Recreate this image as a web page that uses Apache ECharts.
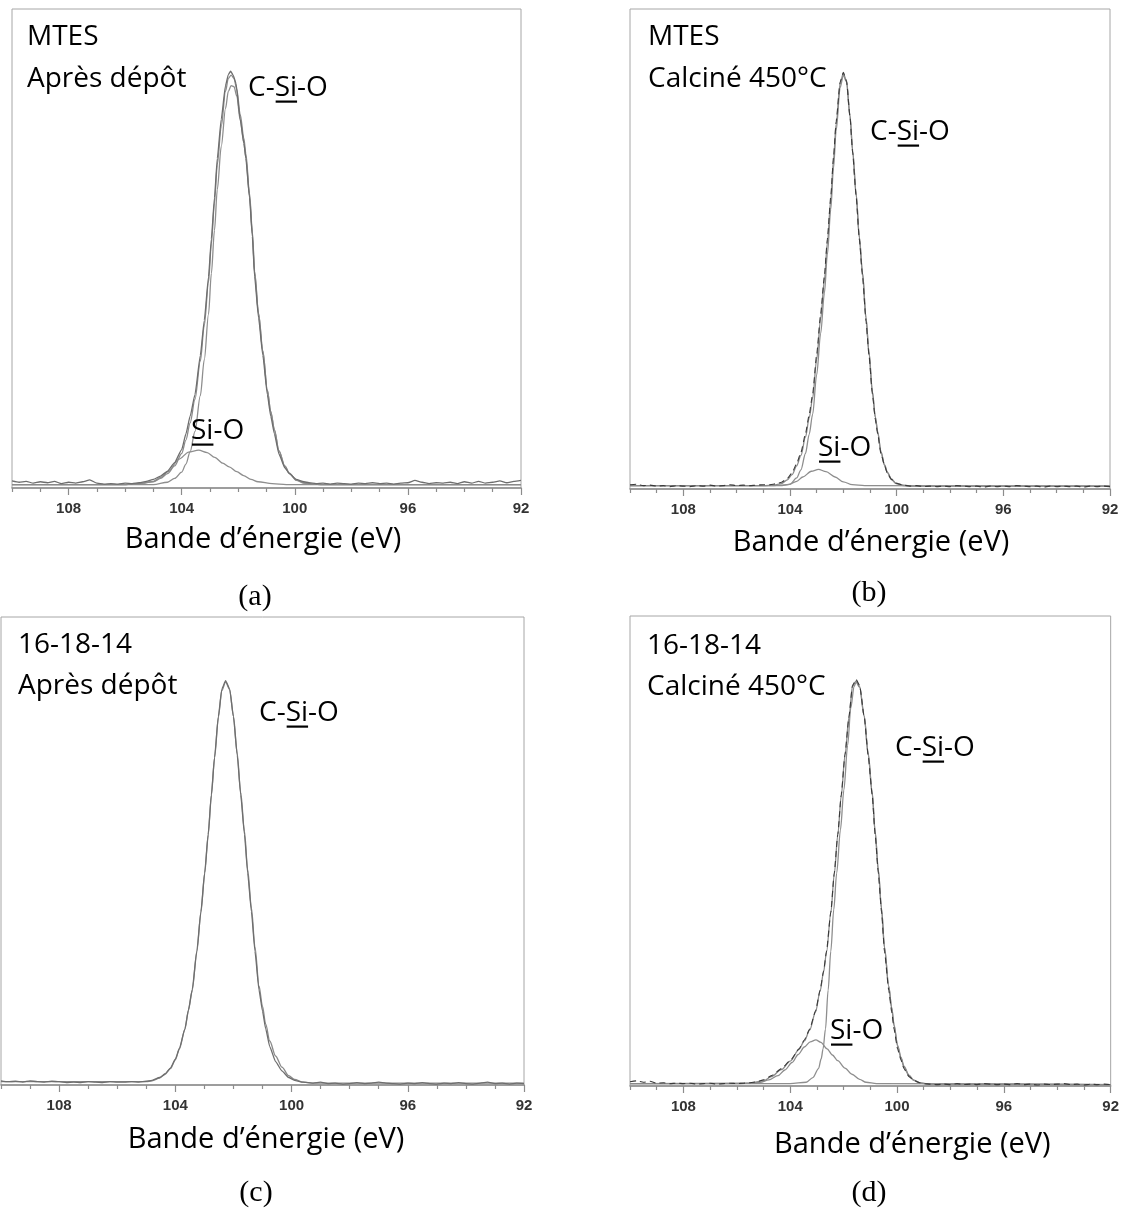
<!DOCTYPE html>
<html>
<head>
<meta charset="utf-8">
<script src="https://cdn.jsdelivr.net/npm/echarts@6/dist/echarts.min.js"></script>
<style>
html,body{margin:0;padding:0;background:#fff;}
#chart{width:1122px;height:1209px;}
</style>
</head>
<body>
<div id="chart"></div>
<script>
// ---------- tick labels ----------
const tickValues = [108, 104, 100, 96, 92];
const minorTickValues = [110, 109, 107, 106, 105, 103, 102, 101, 99, 98, 97, 95, 94, 93];
const axisTitle = 'Bande d’énergie (eV)';

// ---------- panel (a) MTES, après dépôt ----------
const aMeas = [[110,1.5],[109.75,1.2],[109.5,1.4],[109.25,1.0],[109,1.3],[108.75,1.1],[108.5,1.4],[108.25,0.9],[108,1.2],[107.75,1.0],[107.5,1.3],[107.25,1.7],[107,1.0],[106.75,0.8],[106.5,0.9],[106.25,0.8],[106,1.0],[105.75,0.9],[105.5,1.1],[105.25,1.4],[105,1.8],[104.75,2.5],[104.5,3.5],[104.25,5.3],[104.0,8.0],[103.85,11.3],[103.7,15.0],[103.53,19.5],[103.34,27.7],[103.2,35.0],[103.05,44.1],[102.95,52.0],[102.84,60.6],[102.74,68.8],[102.6,77.0],[102.45,84.0],[102.35,86.3],[102.27,87.0],[102.18,86.2],[102.08,84.5],[101.93,77.0],[101.8,72.0],[101.73,68.8],[101.6,60.6],[101.5,52.5],[101.42,44.1],[101.28,35.5],[101.13,27.7],[100.97,19.5],[100.85,15.0],[100.72,11.3],[100.56,7.1],[100.35,4.2],[100.19,3.0],[99.95,1.8],[99.68,1.3],[99.5,1.1],[99.25,0.9],[99,1.0],[98.75,0.8],[98.5,1.0],[98.25,0.9],[98,0.8],[97.75,1.0],[97.5,0.9],[97.25,1.1],[97,0.9],[96.75,1.0],[96.5,0.8],[96.25,1.0],[96,1.1],[95.75,1.6],[95.5,1.2],[95.25,0.9],[95,1.1],[94.75,1.0],[94.5,1.2],[94.25,0.9],[94,1.3],[93.75,1.0],[93.5,1.4],[93.25,1.0],[93,1.2],[92.75,1.5],[92.5,1.1],[92.25,1.4],[92,1.6]];
const aFit = [[110,0.7],[106,0.7],[105.5,0.9],[105,1.3],[104.75,2.0],[104.5,3.0],[104.25,4.6],[104.0,7.2],[103.85,10.0],[103.7,13.6],[103.53,18.5],[103.34,26.5],[103.2,34.0],[103.05,43.0],[102.95,51.0],[102.84,59.5],[102.74,67.5],[102.6,75.5],[102.45,82.8],[102.35,85.5],[102.25,86.2],[102.15,85.5],[102.05,83.2],[101.93,78.0],[101.8,73.0],[101.73,69.8],[101.6,61.5],[101.5,53.5],[101.42,45.2],[101.28,36.5],[101.13,28.7],[100.97,20.5],[100.85,16.0],[100.72,12.2],[100.56,7.8],[100.35,4.6],[100.19,3.1],[99.95,1.7],[99.68,1.1],[99.4,0.8],[99,0.7],[92,0.7]];
const aCSiO = [[110,0.7],[105,0.7],[104.5,1.2],[104.25,2.0],[104.0,3.3],[103.85,5.0],[103.7,7.6],[103.53,11.8],[103.34,19.3],[103.2,26.8],[103.05,36.3],[102.95,44.8],[102.84,53.8],[102.74,62.3],[102.6,71.3],[102.45,79.2],[102.35,82.8],[102.25,84.0],[102.15,83.8],[102.05,81.8],[101.93,76.8],[101.8,72.0],[101.73,69.0],[101.6,61.0],[101.5,53.0],[101.42,44.9],[101.28,36.3],[101.13,28.5],[100.97,20.4],[100.85,15.9],[100.72,12.1],[100.56,7.7],[100.35,4.5],[100.19,3.0],[99.95,1.6],[99.68,1.0],[99.4,0.8],[99,0.7],[92,0.7]];
const aSiO = [[110,0.7],[106,0.7],[105.4,1.0],[105,1.4],[104.75,2.2],[104.48,3.4],[104.1,6.0],[103.75,7.5],[103.4,7.9],[103.1,7.4],[102.83,6.4],[102.55,5.2],[102.32,4.4],[102.05,3.4],[101.81,2.6],[101.55,1.8],[101.3,1.3],[100.8,0.9],[100.3,0.7],[92,0.7]];

// ---------- panel (b) MTES, calciné 450°C ----------
const bMeas = [[110,0.9],[109.75,1.0],[109.5,0.7],[109.25,0.8],[109,0.6],[108.75,0.7],[108.5,0.5],[108.25,0.7],[108,0.6],[107.75,0.5],[107.5,0.7],[107.25,0.6],[107,0.8],[106.75,0.6],[106.5,0.7],[106.25,0.9],[106,0.7],[105.75,0.8],[105.5,0.7],[105.25,0.8],[105,0.9],[104.75,0.9],[104.5,1.1],[104.32,1.4],[104.1,2.2],[103.92,3.4],[103.75,5.3],[103.59,7.6],[103.42,11.5],[103.28,15.5],[103.15,19.8],[103.0,28.0],[102.85,36.5],[102.71,44.4],[102.6,52.0],[102.47,61.0],[102.37,69.0],[102.27,76.5],[102.12,84.8],[102.0,86.8],[101.88,85.0],[101.75,77.5],[101.65,70.0],[101.52,61.0],[101.4,52.0],[101.28,44.4],[101.15,35.0],[101.04,28.0],[100.91,19.8],[100.8,14.5],[100.71,11.5],[100.59,7.4],[100.45,4.8],[100.35,3.3],[100.2,2.0],[100.02,1.2],[99.75,0.8],[99.5,0.6],[99.25,0.7],[99,0.5],[98.75,0.6],[98.5,0.5],[98.25,0.6],[98,0.5],[97.75,0.7],[97.5,0.6],[97.25,0.5],[97,0.6],[96.75,0.4],[96.5,0.6],[96.25,0.5],[96,0.6],[95.75,0.5],[95.5,0.7],[95.25,0.6],[95,0.5],[94.75,0.6],[94.5,0.4],[94.25,0.6],[94,0.5],[93.75,0.6],[93.5,0.5],[93.25,0.6],[93,0.4],[92.75,0.6],[92.5,0.5],[92.25,0.6],[92,0.5]];
const bFit = [[110,0.7],[105,0.7],[104.6,0.8],[104.32,1.1],[104.1,1.9],[103.92,3.0],[103.75,4.8],[103.59,7.0],[103.42,10.8],[103.28,14.8],[103.15,19.0],[103.0,27.0],[102.85,35.5],[102.71,43.5],[102.6,51.2],[102.47,60.3],[102.37,68.5],[102.27,76.0],[102.12,84.5],[102.0,86.6],[101.88,85.0],[101.75,77.8],[101.65,70.5],[101.52,61.5],[101.4,52.5],[101.28,45.0],[101.15,35.7],[101.04,28.6],[100.91,20.3],[100.8,15.0],[100.71,11.9],[100.59,7.8],[100.45,5.0],[100.35,3.5],[100.2,2.1],[100.02,1.2],[99.75,0.8],[99.4,0.6],[92,0.6]];
const bCSiO = [[110,0.7],[105,0.7],[104.3,0.7],[104.0,1.0],[103.75,2.3],[103.59,4.0],[103.42,7.4],[103.28,11.4],[103.15,15.6],[103.0,23.8],[102.85,32.4],[102.71,40.8],[102.6,48.8],[102.47,58.3],[102.37,66.8],[102.27,74.6],[102.12,83.6],[102.0,86.2],[101.88,84.8],[101.75,77.6],[101.65,70.4],[101.52,61.4],[101.4,52.4],[101.28,44.9],[101.15,35.6],[101.04,28.5],[100.91,20.2],[100.8,14.9],[100.71,11.8],[100.59,7.7],[100.45,4.9],[100.35,3.4],[100.2,2.0],[100.02,1.1],[99.75,0.7],[99.4,0.6],[92,0.6]];
const bSiO = [[110,0.7],[104.6,0.7],[104.05,0.9],[103.75,1.6],[103.52,2.5],[103.2,3.7],[102.93,4.1],[102.65,3.6],[102.31,2.5],[102.0,1.5],[101.67,0.9],[101.2,0.7],[92,0.6]];

// ---------- panel (c) 16-18-14, après dépôt ----------
const cMeas = [[110,0.9],[109.75,0.7],[109.5,0.8],[109.25,0.6],[109,0.9],[108.75,0.7],[108.5,0.6],[108.25,0.8],[108,0.7],[107.75,0.5],[107.5,0.6],[107.25,0.5],[107,0.7],[106.75,0.6],[106.5,0.5],[106.25,0.7],[106,0.6],[105.75,0.6],[105.5,0.7],[105.25,0.6],[105,0.8],[104.8,1.0],[104.54,1.6],[104.35,2.4],[104.17,3.6],[104.0,5.5],[103.86,7.8],[103.67,12.0],[103.55,16.0],[103.42,20.3],[103.26,28.6],[103.12,37.0],[102.99,45.3],[102.87,53.5],[102.76,62.0],[102.65,70.0],[102.52,78.7],[102.4,84.6],[102.27,86.4],[102.13,84.6],[102.0,78.7],[101.87,70.5],[101.75,62.0],[101.62,53.5],[101.51,45.3],[101.38,37.0],[101.26,28.6],[101.12,20.3],[101.0,15.8],[100.89,12.0],[100.75,8.2],[100.55,5.0],[100.33,3.0],[100.1,1.6],[99.9,1.0],[99.6,0.6],[99.25,0.4],[99,0.6],[98.75,0.3],[98.5,0.4],[98.25,0.2],[98,0.3],[97.75,0.5],[97.5,0.3],[97.25,0.4],[97,0.6],[96.75,0.4],[96.5,0.3],[96.25,0.2],[96,0.4],[95.75,0.3],[95.5,0.5],[95.25,0.3],[95,0.2],[94.75,0.4],[94.5,0.3],[94.25,0.5],[94,0.3],[93.75,0.2],[93.5,0.4],[93.25,0.6],[93,0.3],[92.75,0.4],[92.5,0.2],[92.25,0.4],[92,0.3]];
const cFit = [[110,0.7],[105,0.7],[104.8,0.9],[104.54,1.5],[104.35,2.3],[104.17,3.5],[104.0,5.4],[103.86,7.7],[103.67,11.9],[103.55,15.9],[103.42,20.2],[103.26,28.5],[103.12,36.9],[102.99,45.2],[102.87,53.4],[102.76,61.9],[102.65,69.9],[102.52,78.5],[102.4,84.3],[102.27,86.1],[102.13,84.5],[102.0,78.8],[101.87,70.8],[101.75,62.5],[101.62,54.2],[101.51,46.0],[101.38,37.8],[101.26,29.5],[101.12,21.2],[101.0,16.8],[100.89,13.0],[100.75,9.4],[100.55,6.2],[100.33,3.8],[100.1,2.0],[99.9,1.2],[99.6,0.6],[99.3,0.4],[92,0.4]];

// ---------- panel (d) 16-18-14, calciné 450°C ----------
const dMeas = [[110,0.9],[109.75,1.1],[109.5,0.8],[109.25,1.0],[109,0.6],[108.75,0.7],[108.5,0.5],[108.25,0.6],[108,0.5],[107.75,0.6],[107.5,0.4],[107.25,0.5],[107,0.6],[106.75,0.4],[106.5,0.5],[106.25,0.6],[106,0.5],[105.75,0.6],[105.5,0.7],[105.25,0.9],[105.0,1.3],[104.7,2.2],[104.33,3.7],[104.0,5.4],[103.67,7.9],[103.47,9.8],[103.27,12.1],[103.05,16.0],[102.88,20.4],[102.75,24.5],[102.64,28.7],[102.48,37.0],[102.35,45.3],[102.22,53.5],[102.09,61.9],[101.95,70.5],[101.8,78.6],[101.67,85.2],[101.53,86.5],[101.4,85.2],[101.23,78.6],[101.08,70.3],[100.93,61.9],[100.82,53.5],[100.70,45.3],[100.58,37.0],[100.47,28.7],[100.31,20.4],[100.2,15.8],[100.11,12.1],[99.98,7.9],[99.85,5.5],[99.74,3.7],[99.55,2.0],[99.38,1.2],[99.15,0.7],[99,0.5],[98.75,0.4],[98.5,0.3],[98.25,0.4],[98,0.3],[97.75,0.5],[97.5,0.3],[97.25,0.4],[97,0.3],[96.75,0.5],[96.5,0.4],[96.25,0.3],[96,0.4],[95.75,0.3],[95.5,0.5],[95.25,0.3],[95,0.4],[94.75,0.2],[94.5,0.4],[94.25,0.3],[94,0.4],[93.75,0.5],[93.5,0.3],[93.25,0.4],[93,0.2],[92.75,0.4],[92.5,0.3],[92.25,0.4],[92,0.3]];
const dFit = [[110,0.5],[105.5,0.6],[105.0,1.1],[104.7,2.0],[104.33,3.5],[104.0,5.3],[103.67,7.8],[103.47,9.6],[103.27,11.9],[103.05,15.8],[102.88,20.2],[102.75,24.3],[102.64,28.5],[102.48,36.8],[102.35,45.1],[102.22,53.3],[102.09,61.7],[101.95,70.3],[101.8,78.4],[101.67,85.0],[101.53,86.2],[101.4,85.0],[101.23,78.8],[101.08,70.8],[100.93,62.5],[100.82,54.2],[100.70,46.0],[100.58,37.8],[100.47,29.6],[100.31,21.3],[100.2,16.7],[100.11,13.0],[99.98,8.7],[99.85,6.1],[99.74,4.2],[99.55,2.3],[99.38,1.3],[99.15,0.7],[98.8,0.4],[92,0.3]];
const dCSiO = [[110,0.5],[104,0.5],[103.4,0.8],[103.15,1.8],[102.94,3.7],[102.84,5.8],[102.77,7.9],[102.68,12.1],[102.58,20.4],[102.48,28.7],[102.37,37.5],[102.26,45.3],[102.12,54.5],[101.99,63.0],[101.85,72.5],[101.73,80.5],[101.61,85.0],[101.53,85.9],[101.4,84.8],[101.23,78.6],[101.08,70.5],[100.93,62.2],[100.82,54.0],[100.70,45.8],[100.58,37.6],[100.47,29.4],[100.31,21.1],[100.2,16.5],[100.11,12.8],[99.98,8.5],[99.85,5.9],[99.74,4.0],[99.55,2.2],[99.38,1.2],[99.15,0.6],[98.8,0.4],[92,0.3]];
const dSiO = [[110,0.5],[106,0.5],[105.4,0.6],[105.12,0.8],[104.8,1.3],[104.46,2.2],[104.2,3.4],[103.93,5.0],[103.7,6.7],[103.47,8.3],[103.25,9.4],[103.04,9.8],[102.85,9.3],[102.62,7.9],[102.42,6.6],[102.22,5.4],[101.95,3.8],[101.69,2.5],[101.4,1.4],[101.16,0.8],[100.77,0.5],[92,0.3]];

// ---------- layout / style ----------
const SANS = 'Open Sans';
const SANS_SIZE = 28;
const TITLE_SIZE = 29;
const CAP_FONT = 'Liberation Serif';
const grids = [
  {left: 12, top: 9, width: 509, height: 479},
  {left: 630, top: 9, width: 480, height: 480},
  {left: 1, top: 617, width: 523, height: 468},
  {left: 630, top: 616, width: 483, height: 470}
];
const nameGaps = [52, 54, 55, 59];
const namePads = [[0, 7, 0, 0], [0, 0, 0, 2], [0, 0, 0, 7], [0, 0, 0, 84]];

const panels = [
  {meas: aMeas, fit: aFit, comps: [aCSiO, aSiO], dashed: false},
  {meas: bMeas, fit: bFit, comps: [bCSiO, bSiO], dashed: true},
  {meas: cMeas, fit: cFit, comps: [], dashed: false},
  {meas: dMeas, fit: dFit, comps: [dCSiO, dSiO], dashed: true}
];

const xAxes = [], yAxes = [], series = [];
grids.forEach((g, i) => {
  xAxes.push({
    type: 'value', gridIndex: i, min: 92, max: 110, interval: 4, inverse: true, position: 'bottom',
    axisLine: {show: true, lineStyle: {color: '#8c8c8c', width: 1.5}},
    axisTick: {show: true, length: 7, customValues: tickValues, lineStyle: {color: '#8c8c8c', width: 1.2}},
    axisLabel: {show: true, customValues: tickValues, margin: 13, fontSize: 15, fontWeight: 'bold',
                fontFamily: 'Liberation Sans', color: '#333'},
    splitLine: {show: false},
    name: axisTitle, nameLocation: 'middle', nameGap: nameGaps[i],
    nameTextStyle: {fontFamily: SANS, fontSize: TITLE_SIZE, color: '#000', verticalAlign: 'middle', padding: namePads[i]}
  });
  xAxes.push({
    type: 'value', gridIndex: i, min: 92, max: 110, inverse: true, position: 'bottom',
    axisLine: {show: false},
    axisTick: {show: true, length: 4, customValues: minorTickValues, lineStyle: {color: '#8c8c8c', width: 1.2}},
    axisLabel: {show: false}, splitLine: {show: false}
  });
  yAxes.push({type: 'value', gridIndex: i, min: 0, max: 100, show: false});
});

panels.forEach((p, i) => {
  const base = {type: 'line', xAxisIndex: 2 * i, yAxisIndex: i, showSymbol: false, silent: true,
                smooth: 0.3, smoothMonotone: 'x', z: 2};
  p.comps.forEach(c => series.push(Object.assign({}, base, {data: c, lineStyle: {color: '#8e8e8e', width: 1.3}})));
  series.push(Object.assign({}, base, {data: p.fit, lineStyle: {color: '#8a8a8a', width: 1.3}}));
  series.push(Object.assign({}, base, {data: p.meas, smooth: 0.15, z: 3,
    lineStyle: p.dashed ? {color: '#3a3a3a', width: 1.1, type: [6, 4]} : {color: '#6e6e6e', width: 1.3}}));
});

// ---------- annotations ----------
const mctx = document.createElement('canvas').getContext('2d');
function measure(t, size, fam) { mctx.font = size + 'px "' + fam + '"'; return mctx.measureText(t).width; }
function textEl(t, x, y, opts) {
  opts = opts || {};
  return {type: 'text', x: x, y: y, silent: true, z: 10,
    style: {text: t, fontSize: opts.size || SANS_SIZE, fontFamily: opts.family || SANS, fill: '#000',
            align: opts.align || 'left', verticalAlign: 'middle'}};
}
function underlined(parts, x, y) {
  const els = []; let cx = x;
  parts.forEach(p => {
    const w = measure(p[0], SANS_SIZE, SANS);
    els.push(textEl(p[0], cx, y));
    if (p[1]) els.push({type: 'rect', silent: true, z: 10, shape: {x: cx + 1, y: y + 12.5, width: w - 1, height: 2.2}, style: {fill: '#000'}});
    cx += w;
  });
  return els;
}
const CSIO = [['C-', false], ['Si', true], ['-O', false]];
const SIO = [['Si', true], ['-O', false]];
const capOpt = {family: CAP_FONT, size: 30, align: 'center'};
const graphics = [].concat(
  [textEl('MTES', 27, 37), textEl('Après dépôt', 27, 79)],
  underlined(CSIO, 248, 88), underlined(SIO, 191, 431),
  [textEl('MTES', 648, 37), textEl('Calciné 450°C', 648, 79)],
  underlined(CSIO, 870, 132), underlined(SIO, 818, 448),
  [textEl('16-18-14', 18, 645), textEl('Après dépôt', 18, 686)],
  underlined(CSIO, 259, 713),
  [textEl('16-18-14', 647, 646), textEl('Calciné 450°C', 647, 687)],
  underlined(CSIO, 895, 748), underlined(SIO, 830, 1031),
  [textEl('(a)', 255, 597, capOpt), textEl('(b)', 869, 593, capOpt),
   textEl('(c)', 256, 1193, capOpt), textEl('(d)', 869, 1193, capOpt)]
);

const chart = echarts.init(document.getElementById('chart'), null, {renderer: 'canvas'});
chart.setOption({
  backgroundColor: '#fff',
  animation: false,
  grid: grids.map(g => Object.assign({show: true, borderColor: '#a6a6a6', borderWidth: 1, backgroundColor: 'transparent', containLabel: false}, g)),
  xAxis: xAxes,
  yAxis: yAxes,
  series: series,
  graphic: graphics
});
</script>
</body>
</html>
